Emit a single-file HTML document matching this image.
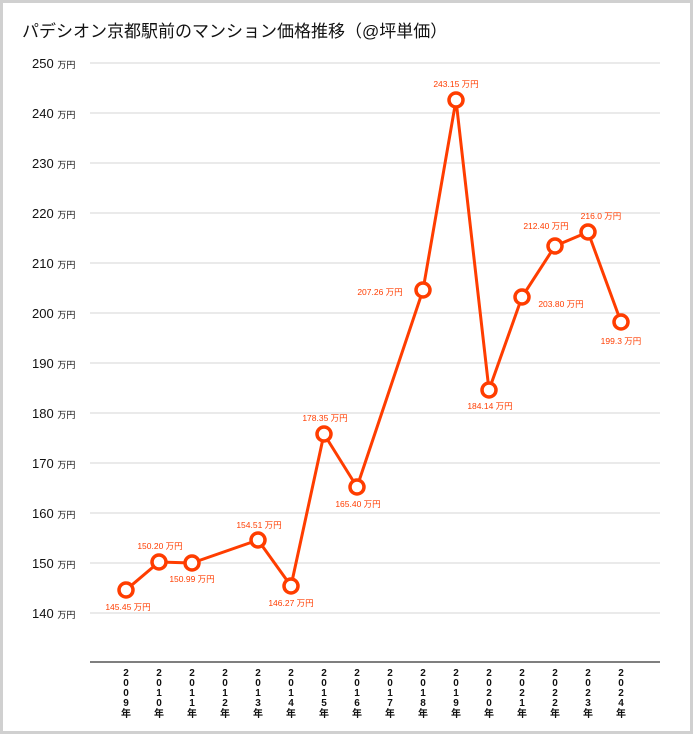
<!DOCTYPE html>
<html><head><meta charset="utf-8"><style>
body{margin:0;background:#d0d0d0;}
svg{display:block;font-family:"Liberation Sans","Noto Sans CJK JP",sans-serif;}
</style></head><body>
<svg width="693" height="734" viewBox="0 0 693 734">
<rect x="0" y="0" width="693" height="734" fill="#d0d0d0"/>
<rect x="3" y="3" width="687" height="728" fill="#fff"/>
<text x="22" y="37" font-size="17" fill="#111">パデシオン京都駅前のマンション価格推移（@坪単価）</text>
<g stroke="#d4d4d4" stroke-width="1">
<line x1="90" x2="660" y1="63" y2="63"/><line x1="90" x2="660" y1="113" y2="113"/>
<line x1="90" x2="660" y1="163" y2="163"/><line x1="90" x2="660" y1="213" y2="213"/>
<line x1="90" x2="660" y1="263" y2="263"/><line x1="90" x2="660" y1="313" y2="313"/>
<line x1="90" x2="660" y1="363" y2="363"/><line x1="90" x2="660" y1="413" y2="413"/>
<line x1="90" x2="660" y1="463" y2="463"/><line x1="90" x2="660" y1="513" y2="513"/>
<line x1="90" x2="660" y1="563" y2="563"/><line x1="90" x2="660" y1="613" y2="613"/>
</g>
<line x1="90" x2="660" y1="662" y2="662" stroke="#333" stroke-width="1.2"/>
<g font-size="13" fill="#111">
<text x="32" y="68">250 <tspan font-size="9">万円</tspan></text>
<text x="32" y="118">240 <tspan font-size="9">万円</tspan></text>
<text x="32" y="168">230 <tspan font-size="9">万円</tspan></text>
<text x="32" y="218">220 <tspan font-size="9">万円</tspan></text>
<text x="32" y="268">210 <tspan font-size="9">万円</tspan></text>
<text x="32" y="318">200 <tspan font-size="9">万円</tspan></text>
<text x="32" y="368">190 <tspan font-size="9">万円</tspan></text>
<text x="32" y="418">180 <tspan font-size="9">万円</tspan></text>
<text x="32" y="468">170 <tspan font-size="9">万円</tspan></text>
<text x="32" y="518">160 <tspan font-size="9">万円</tspan></text>
<text x="32" y="568">150 <tspan font-size="9">万円</tspan></text>
<text x="32" y="618">140 <tspan font-size="9">万円</tspan></text>
</g>
<g font-size="10" font-weight="bold" fill="#111" text-anchor="middle" id="xl"></g>
<polyline fill="none" stroke="#ff3d00" stroke-width="3" stroke-linejoin="round"
points="126,590 159,562 192,563 258,540 291,586 324,434 357,487 423,290 456,100 489,390 522,297 555,246 588,232 621,322"/>
<g fill="#fff" stroke="#ff3d00" stroke-width="3.5">
<circle cx="126" cy="590" r="7"/><circle cx="159" cy="562" r="7"/><circle cx="192" cy="563" r="7"/>
<circle cx="258" cy="540" r="7"/><circle cx="291" cy="586" r="7"/><circle cx="324" cy="434" r="7"/>
<circle cx="357" cy="487" r="7"/><circle cx="423" cy="290" r="7"/><circle cx="456" cy="100" r="7"/>
<circle cx="489" cy="390" r="7"/><circle cx="522" cy="297" r="7"/><circle cx="555" cy="246" r="7"/>
<circle cx="588" cy="232" r="7"/><circle cx="621" cy="322" r="7"/>
</g>
<g font-size="8.5" fill="#ff3d00" text-anchor="middle">
<text x="128" y="610">145.45 万円</text>
<text x="160" y="549">150.20 万円</text>
<text x="192" y="582">150.99 万円</text>
<text x="259" y="528">154.51 万円</text>
<text x="291" y="606">146.27 万円</text>
<text x="325" y="421">178.35 万円</text>
<text x="358" y="507">165.40 万円</text>
<text x="380" y="295">207.26 万円</text>
<text x="456" y="87">243.15 万円</text>
<text x="490" y="409">184.14 万円</text>
<text x="546" y="229">212.40 万円</text>
<text x="561" y="307">203.80 万円</text>
<text x="601" y="219">216.0 万円</text>
<text x="621" y="344">199.3 万円</text>
</g>
<g font-size="10" font-weight="bold" fill="#111" text-anchor="middle">
<text x="126" y="676">2</text><text x="126" y="686">0</text><text x="126" y="696">0</text><text x="126" y="706">9</text><text x="126" y="717">年</text>
<text x="159" y="676">2</text><text x="159" y="686">0</text><text x="159" y="696">1</text><text x="159" y="706">0</text><text x="159" y="717">年</text>
<text x="192" y="676">2</text><text x="192" y="686">0</text><text x="192" y="696">1</text><text x="192" y="706">1</text><text x="192" y="717">年</text>
<text x="225" y="676">2</text><text x="225" y="686">0</text><text x="225" y="696">1</text><text x="225" y="706">2</text><text x="225" y="717">年</text>
<text x="258" y="676">2</text><text x="258" y="686">0</text><text x="258" y="696">1</text><text x="258" y="706">3</text><text x="258" y="717">年</text>
<text x="291" y="676">2</text><text x="291" y="686">0</text><text x="291" y="696">1</text><text x="291" y="706">4</text><text x="291" y="717">年</text>
<text x="324" y="676">2</text><text x="324" y="686">0</text><text x="324" y="696">1</text><text x="324" y="706">5</text><text x="324" y="717">年</text>
<text x="357" y="676">2</text><text x="357" y="686">0</text><text x="357" y="696">1</text><text x="357" y="706">6</text><text x="357" y="717">年</text>
<text x="390" y="676">2</text><text x="390" y="686">0</text><text x="390" y="696">1</text><text x="390" y="706">7</text><text x="390" y="717">年</text>
<text x="423" y="676">2</text><text x="423" y="686">0</text><text x="423" y="696">1</text><text x="423" y="706">8</text><text x="423" y="717">年</text>
<text x="456" y="676">2</text><text x="456" y="686">0</text><text x="456" y="696">1</text><text x="456" y="706">9</text><text x="456" y="717">年</text>
<text x="489" y="676">2</text><text x="489" y="686">0</text><text x="489" y="696">2</text><text x="489" y="706">0</text><text x="489" y="717">年</text>
<text x="522" y="676">2</text><text x="522" y="686">0</text><text x="522" y="696">2</text><text x="522" y="706">1</text><text x="522" y="717">年</text>
<text x="555" y="676">2</text><text x="555" y="686">0</text><text x="555" y="696">2</text><text x="555" y="706">2</text><text x="555" y="717">年</text>
<text x="588" y="676">2</text><text x="588" y="686">0</text><text x="588" y="696">2</text><text x="588" y="706">3</text><text x="588" y="717">年</text>
<text x="621" y="676">2</text><text x="621" y="686">0</text><text x="621" y="696">2</text><text x="621" y="706">4</text><text x="621" y="717">年</text>
</g>
</svg>
</body></html>
